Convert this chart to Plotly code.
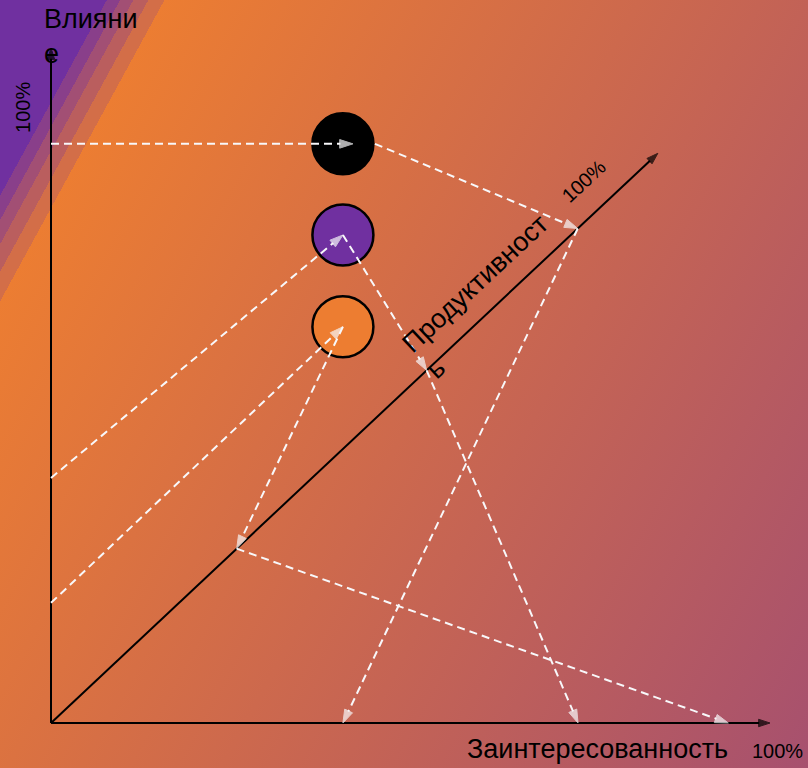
import base64
import plotly.graph_objects as go

# ---------------- data ----------------
groups = ["Чёрная", "Фиолетовая", "Оранжевая"]
interest = [40.6, 73.3, 94.2]        # Заинтересованность, % of horizontal axis
influence = [85.8, 36.3, 17.8]       # Влияние, % of vertical axis
productivity = [86.8, 61.9, 30.6]    # Продуктивность, % of diagonal axis
bubble_x = [40.6, 40.6, 40.6]
bubble_y = [85.8, 72.3, 58.7]
bubble_colors = ["#000000", "#7030A0", "#ED7D31"]

label_influence = "Влияни<br>е"
label_interest = "Заинтересованность"
label_productivity = "Продуктивност<br>ь"
label_max = "100%"

# ---------------- geometry / style ----------------
AXIS_MAX = 100
DIAG = 0.844                 # diagonal axis: data units per 1 %
X_RANGE = [-7.093, 105.285]
Y_RANGE = [-6.667, 107.111]
BUBBLE_R_X = 4.45            # bubble radius in x units
IN_TIP_DX = [1.4, 0, 0]
OUT_START_DX = [BUBBLE_R_X, 0, 0]
FONT = "Arial, 'Liberation Sans', sans-serif"
DASH_COLOR = "#F8F8FA"
DASH = "8px,5px"

# background gradient (svg)
stops = [
    (0.0, "#7030A0"), (0.0864, "#7030A0"),
    (0.0864, "#893F8A"), (0.0971, "#893F8A"),
    (0.0971, "#A24F74"), (0.1078, "#A24F74"),
    (0.1078, "#BA5E5E"), (0.1200, "#BA5E5E"),
    (0.1200, "#D36E48"), (0.1330, "#D36E48"),
    (0.1330, "#EC7D32"), (1.0, "#A6506F"),
]
stop_xml = "".join(f'<stop offset="{o}" stop-color="{c}"/>' for o, c in stops)
svg = (
    '<svg xmlns="http://www.w3.org/2000/svg" width="808" height="768" '
    'viewBox="0 0 808 768" preserveAspectRatio="none"><defs>'
    '<linearGradient id="g" gradientUnits="userSpaceOnUse" x1="0" y1="0" '
    'x2="953" y2="520">' + stop_xml + '</linearGradient></defs>'
    '<rect x="0" y="0" width="808" height="768" fill="url(#g)"/></svg>'
)
bg_src = "data:image/svg+xml;base64," + base64.b64encode(svg.encode()).decode()

fig = go.Figure()


def arrow_trace(x0, y0, x1, y1, color, width, dash, size):
    fig.add_trace(go.Scatter(
        x=[x0, x1], y=[y0, y1], mode="lines+markers",
        line=dict(color=color, width=width, dash=dash),
        marker=dict(symbol="arrow", size=[0, size], color=color,
                    angleref="previous", line=dict(width=1, color=color)),
        hoverinfo="skip", showlegend=False))


# axes
arrow_trace(0, 0, 0, AXIS_MAX, "black", 2, "solid", 12)
arrow_trace(0, 0, AXIS_MAX, 0, "black", 2, "solid", 12)
arrow_trace(0, 0, DIAG * AXIS_MAX, DIAG * AXIS_MAX, "black", 2, "solid", 12)

# bubbles
fig.add_trace(go.Scatter(
    x=bubble_x, y=bubble_y, mode="markers", text=groups,
    marker=dict(size=61, color=bubble_colors, line=dict(color="black", width=2.5)),
    hoverinfo="text", showlegend=False))

# projection paths
for i in range(len(groups)):
    bx, by = bubble_x[i], bubble_y[i]
    d = DIAG * productivity[i]
    arrow_trace(0, influence[i], bx + IN_TIP_DX[i], by, DASH_COLOR, 2, DASH, 14)
    arrow_trace(bx + OUT_START_DX[i], by, d, d, DASH_COLOR, 2, DASH, 14)
    arrow_trace(d, d, interest[i], 0, DASH_COLOR, 2, DASH, 14)

annotations = [
    dict(x=-1.25, y=106.8, text=label_influence, xanchor="left", yanchor="top",
         align="left", font=dict(size=27)),
    dict(x=57.58, y=-3.78, text=label_interest, xanchor="left", yanchor="middle",
         font=dict(size=27)),
    dict(x=97.2, y=-4.2, text=label_max, xanchor="left", yanchor="middle",
         font=dict(size=20)),
    dict(x=-3.9, y=91.26, text=label_max, textangle=-90, xanchor="center",
         yanchor="middle", font=dict(size=20)),
    dict(x=74.13, y=80.3, text=label_max, textangle=-43, xanchor="center",
         yanchor="middle", font=dict(size=20)),
    dict(x=60.64, y=63.25, text=label_productivity, textangle=-43, align="left",
         xanchor="center", yanchor="middle", font=dict(size=27)),
]
for a in annotations:
    a.update(xref="x", yref="y", showarrow=False)
    a["font"].update(family=FONT, color="black")

fig.update_layout(
    width=808, height=768,
    margin=dict(l=0, r=0, t=0, b=0, pad=0),
    paper_bgcolor="#D36C4A", plot_bgcolor="rgba(0,0,0,0)",
    xaxis=dict(range=X_RANGE, visible=False, fixedrange=True),
    yaxis=dict(range=Y_RANGE, visible=False, fixedrange=True),
    annotations=annotations,
    images=[dict(source=bg_src, xref="paper", yref="paper", x=0, y=1,
                 sizex=1, sizey=1, sizing="stretch", xanchor="left",
                 yanchor="top", layer="below")],
)

fig.write_html("out.html", config={"displayModeBar": False},
               post_script="document.body.style.margin='0';"
                           "document.body.style.overflow='hidden';")
